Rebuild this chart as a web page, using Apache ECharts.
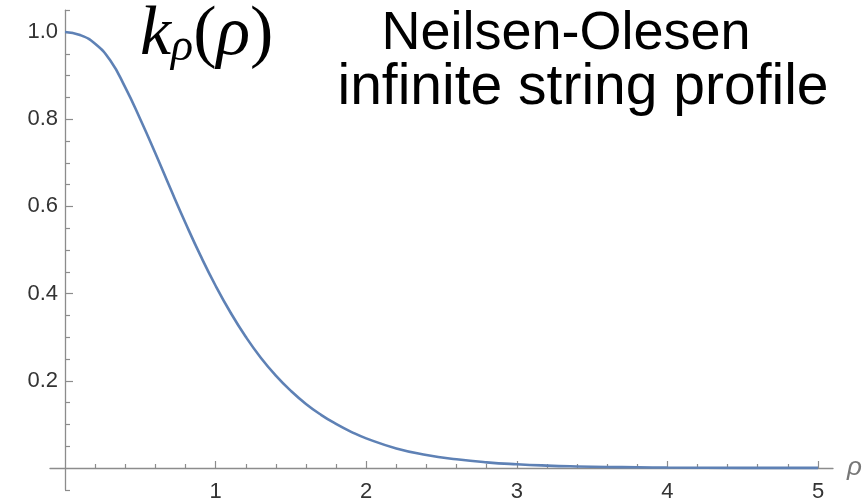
<!DOCTYPE html>
<html>
<head>
<meta charset="utf-8">
<title>Neilsen-Olesen infinite string profile</title>
<script src="https://cdn.jsdelivr.net/npm/echarts@6/dist/echarts.min.js"></script>
<style>
	html, body {
		margin: 0;
		padding: 0;
		background: #fff;
	}
	#chart-box {
		width: 863px;
		height: 504px;
	}
</style>
</head>
<body>
<div id="chart-box"></div>
<script>
// 曲线数据
const rho = [0, 0.1, 0.2, 0.3, 0.4, 0.5, 0.6, 0.7, 0.8, 0.9, 1.0, 1.1, 1.2, 1.3, 1.4, 1.5, 1.6, 1.7, 1.8, 1.9, 2.0, 2.2, 2.4, 2.6, 2.8, 3.0, 3.2, 3.4, 3.6, 3.8, 4.0, 4.5, 5.0]
const kRho = [1.0, 0.993, 0.973, 0.935, 0.873, 0.8, 0.722, 0.641, 0.562, 0.487, 0.418, 0.356, 0.301, 0.253, 0.212, 0.177, 0.147, 0.122, 0.101, 0.083, 0.068, 0.045, 0.03, 0.02, 0.013, 0.0085, 0.0055, 0.0036, 0.0024, 0.0016, 0.001, 0.0004, 0.0002]

// 刻度
const xMajorTicks = [1, 2, 3, 4, 5]
const xMinorTicks = [0.2, 0.4, 0.6, 0.8, 1.2, 1.4, 1.6, 1.8, 2.2, 2.4, 2.6, 2.8, 3.2, 3.4, 3.6, 3.8, 4.2, 4.4, 4.6, 4.8]
const yMajorTicks = [0.2, 0.4, 0.6, 0.8, 1.0]
const yMinorTicks = [-0.05, 0.05, 0.1, 0.15, 0.25, 0.3, 0.35, 0.45, 0.5, 0.55, 0.65, 0.7, 0.75, 0.85, 0.9, 0.95, 1.05]

const axisColor = '#8c8c8c'
const noBounds = { outerBoundsMode: 'none', containLabel: false }

const mathText = {
	fontFamily: 'Liberation Serif',
	fontWeight: 'normal',
	color: '#000',
	verticalAlign: 'bottom',
}
const hidden = {
	axisLine: { show: false },
	axisTick: { show: false },
	axisLabel: { show: false },
	splitLine: { show: false },
}

const option = {
	animation: false,
	backgroundColor: '#fff',
	title: [
		{
			text: 'Neilsen-Olesen',
			left: 566,
			top: 7,
			padding: 0,
			textAlign: 'center',
			textStyle: {
				fontFamily: 'Liberation Sans',
				fontWeight: 'normal',
				fontSize: 54,
				lineHeight: 54,
				color: '#000',
			},
		},
		{
			text: 'infinite string profile',
			left: 583,
			top: 60,
			padding: 0,
			textAlign: 'center',
			textStyle: {
				fontFamily: 'Liberation Sans',
				fontWeight: 'normal',
				fontSize: 57,
				lineHeight: 57,
				color: '#000',
			},
		},
		{
			text: '{k|k}{s|ρ}{p|(}{k|ρ}{p|)}',
			left: 140,
			top: 1,
			padding: 0,
			textStyle: {
				fontWeight: 'normal',
				rich: {
					k: { ...mathText, fontStyle: 'italic', fontSize: 70, lineHeight: 70 },
					s: { ...mathText, fontStyle: 'italic', fontSize: 46, lineHeight: 46 },
					p: { ...mathText, fontSize: 70, lineHeight: 70 },
				},
			},
		},
	],
	// 0: 数据 + 主刻度, 1: x 轴线 + 次刻度, 2: y 轴线 + 次刻度
	grid: [
		{ left: 65, right: 45, top: 32, bottom: 36, ...noBounds },
		{ left: 50, right: 30, top: 32, bottom: 36, ...noBounds },
		{ left: 65, right: 45, top: 10.2, bottom: 14.2, ...noBounds },
	],
	xAxis: [
		{
			type: 'value',
			gridIndex: 0,
			min: 0,
			max: 5,
			axisLine: { show: false },
			axisTick: {
				inside: true,
				length: 7,
				customValues: xMajorTicks,
				lineStyle: { color: axisColor, width: 1.2 },
			},
			axisLabel: {
				customValues: xMajorTicks,
				margin: 13,
				fontFamily: 'Liberation Sans',
				fontSize: 22,
				color: '#333',
			},
			splitLine: { show: false },
		},
		{
			type: 'value',
			gridIndex: 1,
			min: -0.1,
			max: 5.1,
			name: 'ρ',
			nameLocation: 'end',
			nameGap: 14,
			nameTextStyle: {
				fontFamily: 'Liberation Sans',
				fontStyle: 'italic',
				fontSize: 26,
				color: '#777',
			},
			axisLine: {
				show: true,
				onZero: false,
				lineStyle: { color: axisColor, width: 1.3 },
			},
			axisTick: {
				inside: true,
				length: 4,
				customValues: xMinorTicks,
				lineStyle: { color: axisColor, width: 1.2 },
			},
			axisLabel: { show: false },
			splitLine: { show: false },
		},
		{
			type: 'value',
			gridIndex: 2,
			min: 0,
			max: 5,
			...hidden,
		},
	],
	yAxis: [
		{
			type: 'value',
			gridIndex: 0,
			min: 0,
			max: 1,
			axisLine: { show: false },
			axisTick: {
				show: true,
				inside: true,
				length: 8,
				customValues: yMajorTicks,
				lineStyle: { color: axisColor, width: 1.2 },
			},
			axisLabel: {
				customValues: yMajorTicks,
				margin: 7,
				fontFamily: 'Liberation Sans',
				fontSize: 22,
				color: '#333',
				formatter: (v) => v.toFixed(1),
			},
			splitLine: { show: false },
		},
		{
			type: 'value',
			gridIndex: 1,
			min: 0,
			max: 1,
			...hidden,
		},
		{
			type: 'value',
			gridIndex: 2,
			min: -0.05,
			max: 1.05,
			axisLine: {
				show: true,
				onZero: false,
				lineStyle: { color: axisColor, width: 1.3 },
			},
			axisTick: {
				show: true,
				inside: true,
				length: 5,
				customValues: yMinorTicks,
				lineStyle: { color: axisColor, width: 1.2 },
			},
			axisLabel: { show: false },
			splitLine: { show: false },
		},
	],
	series: [
		{
			name: 'k_rho',
			type: 'line',
			xAxisIndex: 0,
			yAxisIndex: 0,
			smooth: true,
			showSymbol: false,
			clip: false,
			lineStyle: { color: '#5e81b5', width: 2.6 },
			data: rho.map((r, i) => [r, kRho[i]]),
		},
	],
}

const myChart = echarts.init(document.getElementById('chart-box'))
myChart.setOption(option)
</script>
</body>
</html>
